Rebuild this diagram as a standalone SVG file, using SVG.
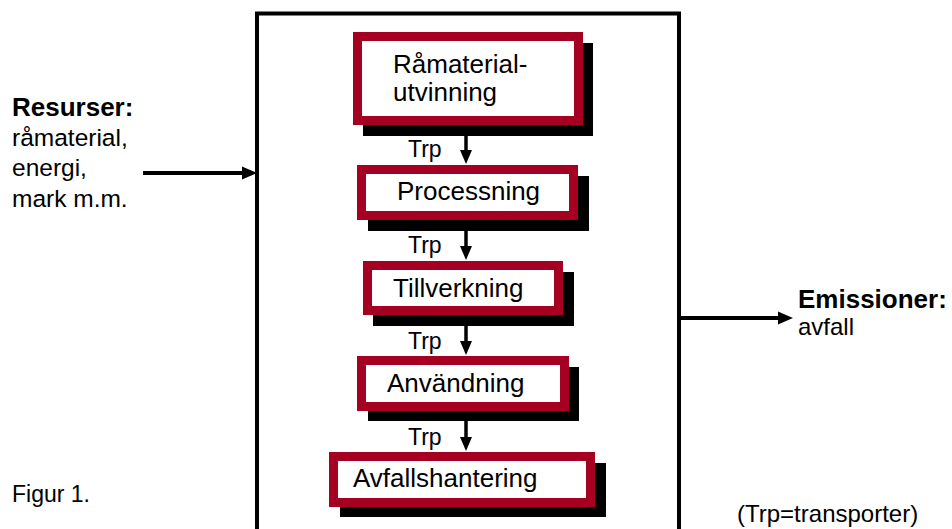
<svg xmlns="http://www.w3.org/2000/svg" width="952" height="529" viewBox="0 0 952 529">
<defs>
<style>
text{font-family:"Liberation Sans",Arial,sans-serif;fill:#000}
.box{fill:#fff;stroke:#a50021;stroke-width:9}
.shadow{fill:#000}
.lbl{font-size:26px}
.trp{font-size:23px}
.side{font-size:24px}
.bold{font-size:26px;font-weight:bold}
.conn{stroke:#000;stroke-width:3.5;fill:none}
.hconn{stroke:#000;stroke-width:4;fill:none}
.head{fill:#000}
</style>
</defs>
<rect width="952" height="529" fill="#fff"/>
<g id="frame">
<rect x="257" y="13.5" width="422" height="530" fill="none" stroke="#000" stroke-width="4"/>
</g>
<g id="connectors">
<line class="hconn" x1="143" y1="173" x2="244" y2="173"/>
<polygon class="head" points="242,166.5 257,173 242,179.5"/>
<line class="hconn" x1="681" y1="318" x2="780" y2="318"/>
<polygon class="head" points="778,311.5 793,318 778,324.5"/>
<line class="conn" x1="466" y1="136" x2="466" y2="152"/>
<polygon class="head" points="460,150 472,150 466,164"/>
<line class="conn" x1="466" y1="231" x2="466" y2="248"/>
<polygon class="head" points="460,246 472,246 466,260"/>
<line class="conn" x1="466" y1="326" x2="466" y2="343"/>
<polygon class="head" points="460,341 472,341 466,355"/>
<line class="conn" x1="466" y1="421" x2="466" y2="439"/>
<polygon class="head" points="460,437 472,437 466,451"/>
<text class="trp" x="408" y="157">Trp</text>
<text class="trp" x="408" y="253">Trp</text>
<text class="trp" x="408" y="349">Trp</text>
<text class="trp" x="408" y="445">Trp</text>
</g>
<g id="ramaterialutvinning">
<rect class="shadow" x="363" y="43" width="230" height="93"/>
<rect class="box" x="357.5" y="36.5" width="221" height="84"/>
<text class="lbl" x="393" y="73">Råmaterial-</text>
<text class="lbl" x="393" y="101">utvinning</text>
</g>
<g id="processning">
<rect class="shadow" x="368" y="176" width="221" height="55"/>
<rect class="box" x="361.5" y="169.5" width="212" height="46"/>
<text class="lbl" x="397" y="200">Processning</text>
</g>
<g id="tillverkning">
<rect class="shadow" x="373" y="272" width="201" height="54"/>
<rect class="box" x="367.5" y="265.5" width="191" height="45"/>
<text class="lbl" x="393" y="297">Tillverkning</text>
</g>
<g id="anvandning">
<rect class="shadow" x="368" y="367" width="211" height="54"/>
<rect class="box" x="361.5" y="360.5" width="203" height="46"/>
<text class="lbl" x="387" y="392">Användning</text>
</g>
<g id="avfallshantering">
<rect class="shadow" x="340" y="463" width="266" height="54"/>
<rect class="box" x="333.5" y="456.5" width="257" height="46"/>
<text class="lbl" x="353" y="487">Avfallshantering</text>
</g>
<g id="resurser">
<text class="bold" x="12" y="116">Resurser:</text>
<text class="side" x="12" y="146" style="font-size:24.5px">råmaterial,</text>
<text class="side" x="12" y="176" style="font-size:24.5px">energi,</text>
<text class="side" x="12" y="207" style="font-size:24.5px">mark m.m.</text>
</g>
<g id="emissioner">
<text class="bold" x="798" y="308">Emissioner:</text>
<text class="side" x="798" y="335">avfall</text>
</g>
<g id="notes">
<text class="side" x="12" y="502" style="font-size:23px">Figur 1.</text>
<text class="side" x="737" y="522">(Trp=transporter)</text>
</g>
</svg>
